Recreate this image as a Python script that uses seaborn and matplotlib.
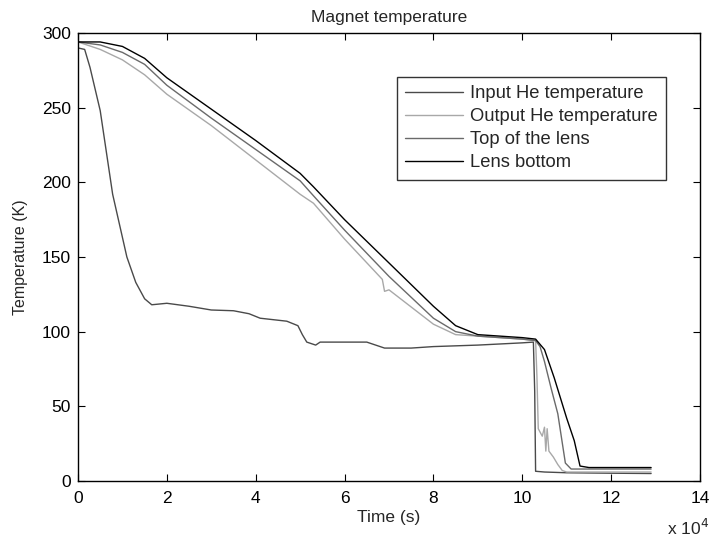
import matplotlib
matplotlib.use("Agg")
import matplotlib.pyplot as plt
import seaborn as sns
import numpy as np
import pandas as pd

# Time in units of 1e4 s
t_input = [0, 0.15, 0.27, 0.5, 0.78, 1.1, 1.3, 1.5, 1.66, 2.0, 2.5, 3.0, 3.5, 3.85, 4.1, 4.7, 4.95,
           5.05, 5.15, 5.35, 5.45, 6.5, 6.9, 7.5, 8.0, 9.0, 10.0, 10.25, 10.28, 10.3, 10.5, 11.0, 12.0, 12.9]
T_input = [290, 289, 277, 248, 192, 150, 133, 122, 118, 119, 117, 114.5, 114, 112, 109, 107, 104,
           98, 93, 91, 93, 93, 89, 89, 90, 91, 92.5, 93, 60, 6.5, 6, 5.5, 5.2, 5]

t_output = [0, 0.5, 1.0, 1.5, 2.0, 3.0, 4.0, 5.0, 5.3, 6.0, 6.85, 6.9, 7.0, 8.0, 8.5, 9.0, 10.0, 10.3,
            10.33, 10.36, 10.45, 10.5, 10.53, 10.56, 10.6, 10.7, 10.8, 10.9, 11.0, 12.0, 12.9]
T_output = [294, 289, 282, 272, 259, 238, 215, 192, 186, 162, 135, 127, 128, 105, 98, 97, 95, 94,
            70, 35, 30, 36, 20, 35, 20, 16, 11, 7, 6, 6, 6]

t_top = [0, 0.5, 1.0, 1.5, 2.0, 3.0, 4.0, 5.0, 5.3, 6.0, 7.0, 8.0, 8.5, 9.0, 10.0, 10.3,
         10.4, 10.5, 10.65, 10.8, 10.97, 11.1, 12.0, 12.9]
T_top = [294, 292, 287, 279, 265, 243, 222, 201, 191, 168, 137, 109, 100, 97, 95, 94,
         90, 80, 62, 45, 12, 8, 8, 8]

t_bottom = [0, 0.5, 1.0, 1.5, 2.0, 3.0, 4.0, 5.0, 5.3, 6.0, 7.0, 8.0, 8.5, 9.0, 10.0, 10.3,
            10.5, 10.72, 11.0, 11.17, 11.3, 11.5, 12.0, 12.9]
T_bottom = [294, 294, 291, 283, 270, 249, 228, 206, 197, 175, 146, 117, 104, 98, 96, 95,
            88, 69, 42, 27, 10, 9, 9, 9]

labels = ["Input He temperature", "Output He temperature", "Top of the lens", "Lens bottom"]
colors = ["#4a4a4a", "#a8a8a8", "#6a6a6a", "#000000"]
x_ticks = [0, 2, 4, 6, 8, 10, 12, 14]
y_ticks = [0, 50, 100, 150, 200, 250, 300]

frames = []
for lab, tt, TT in zip(labels, [t_input, t_output, t_top, t_bottom],
                       [T_input, T_output, T_top, T_bottom]):
    frames.append(pd.DataFrame({"t": tt, "T": TT, "series": lab}))
df = pd.concat(frames, ignore_index=True)

sns.set_style("white")
plt.rcParams["font.family"] = ["Liberation Sans", "DejaVu Sans"]

FS = 12.5

fig = plt.figure(figsize=(7.11, 5.40), dpi=100)
ax = fig.add_axes([0.1097, 0.1093, 0.8748, 0.8296])

sns.lineplot(data=df, x="t", y="T", hue="series", hue_order=labels,
             palette=dict(zip(labels, colors)), sort=False, estimator=None,
             linewidth=1.0, ax=ax)

ax.set_xlim(0, 14)
ax.set_ylim(0, 300)
ax.set_xticks(x_ticks)
ax.set_yticks(y_ticks)
ax.set_xticklabels([str(v) for v in x_ticks], fontsize=FS)
ax.set_yticklabels([str(v) for v in y_ticks], fontsize=FS)
ax.tick_params(direction="in", length=5, width=0.8, top=True, right=True,
               bottom=True, left=True, colors="black")
ax.tick_params(axis="x", pad=7)
ax.tick_params(axis="y", pad=5)
for s in ax.spines.values():
    s.set_visible(True)
    s.set_color("black")
    s.set_linewidth(1.0)

ax.set_xlabel("Time (s)", fontsize=FS, labelpad=3)
ax.set_ylabel("Temperature (K)", fontsize=11.5, labelpad=10)
ax.set_title("Magnet temperature", fontsize=FS, pad=8)
fig.text(0.997, 0.01, r"x 10$^4$", fontsize=FS, ha="right", va="baseline")

leg = ax.legend(loc="upper right", bbox_to_anchor=(0.945, 0.902), fontsize=13.2,
                frameon=True, fancybox=False, handlelength=3.15, handletextpad=0.38,
                borderpad=0.45, labelspacing=0.33, borderaxespad=0)
leg.get_frame().set_edgecolor("black")
leg.get_frame().set_linewidth(1.0)

fig.savefig("out.png", dpi=100)
